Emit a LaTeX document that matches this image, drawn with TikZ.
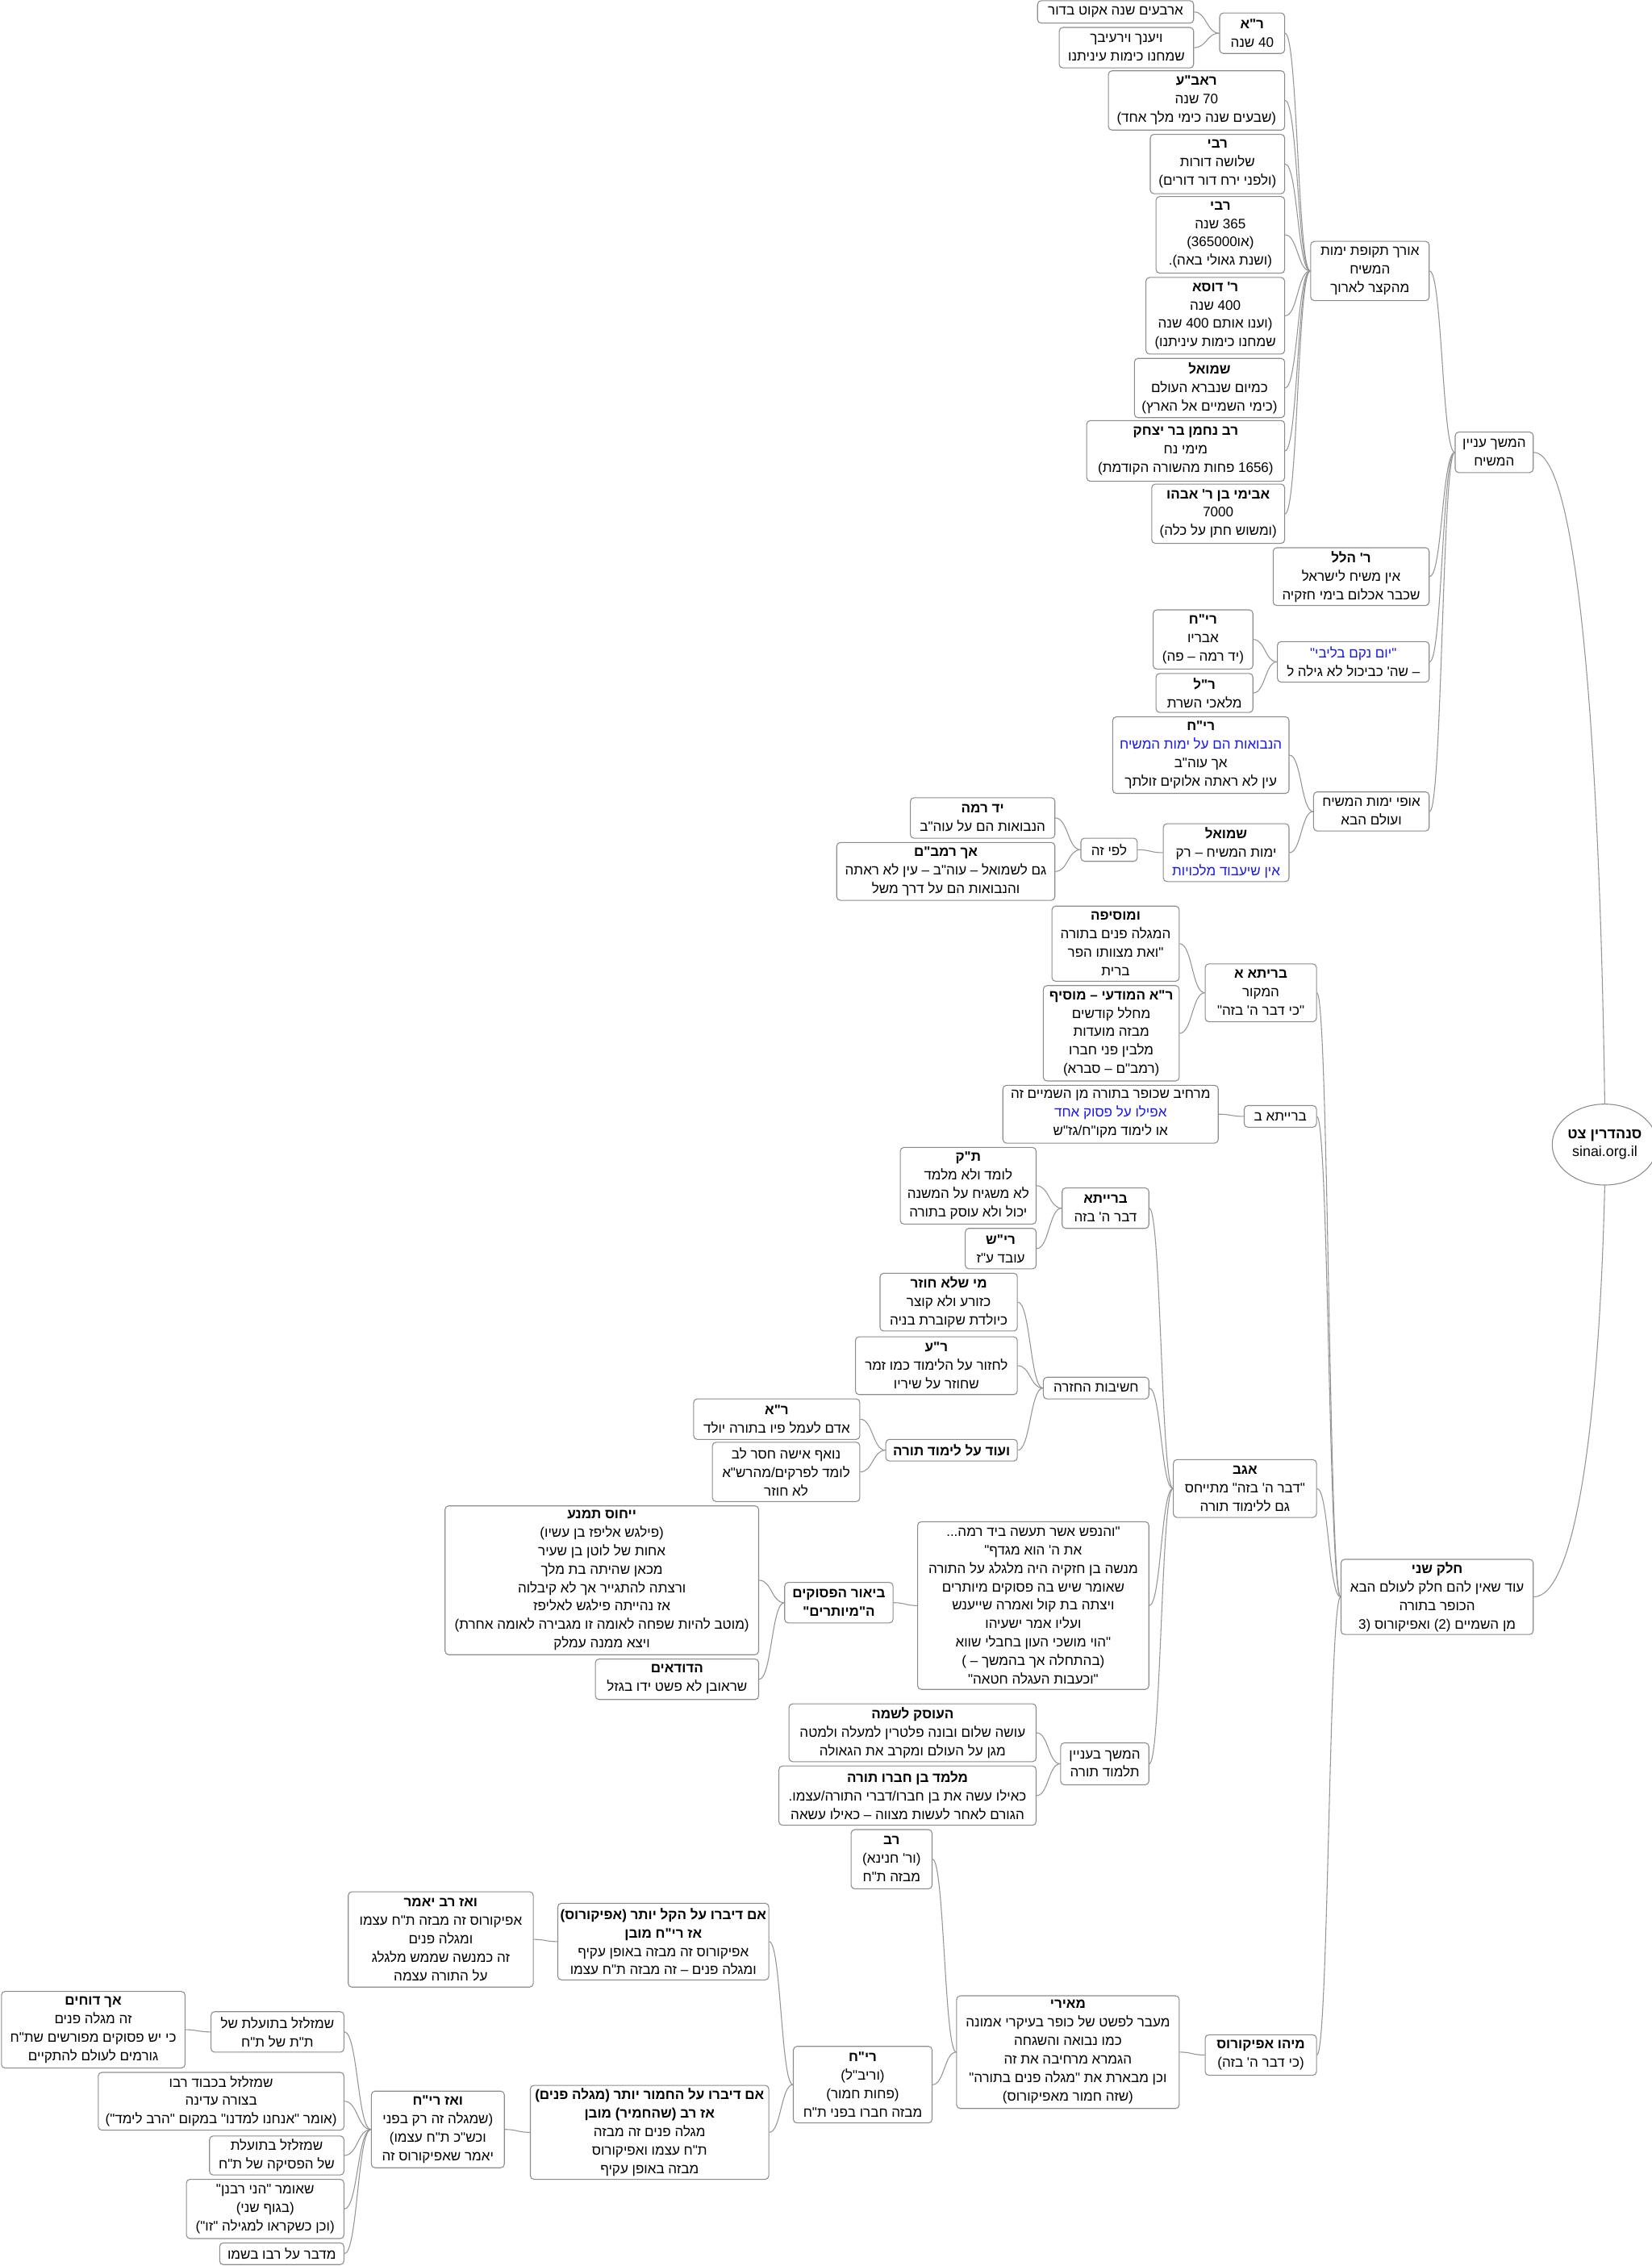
\documentclass[tikz,border=0pt]{standalone}
\usepackage{fontspec}
\usetikzlibrary{calc,shapes.geometric}
\newfontfamily\heb[Script=Hebrew]{Liberation Sans}
\TeXXeTstate=1
\definecolor{linkblue}{RGB}{25,25,235}
\definecolor{boxline}{RGB}{140,140,140}
\definecolor{edgeline}{RGB}{150,150,150}
\newcommand\R[1]{\beginR #1\endR}
\newcommand\B[1]{{\bfseries\beginR #1\endR}}
\newcommand\U[1]{\textcolor{linkblue}{\beginR #1\endR}}
\newcommand\rlm{^^^^200f}
\pgfdeclarelayer{bg}
\pgfsetlayers{bg,main}
\tikzset{
  box/.style={draw=boxline, line width=0.6pt, rounded corners=2.5pt, fill=white,
    align=center, inner sep=1pt, font=\heb\fontsize{9.5}{12.8}\selectfont},
  edge/.style={draw=edgeline, line width=0.6pt},
}
\newcommand\bx[6]{\node[box,minimum width={#4-#2},minimum height={#5-#3}] (#1) at ({(#2+#4)/2},{(#3+#5)/2}) {#6};}
\newcommand\cn[2]{\begin{pgfonlayer}{bg}\path ($(#1.east)!0.5!(#2.west)$) coordinate (cm);
  \draw[edge] (#1.east) .. controls (cm |- #1.east) and (cm |- #2.west) .. (#2.west);\end{pgfonlayer}}
\begin{document}
\begin{tikzpicture}[x=1pt,y=-1pt]
\begin{pgfonlayer}{bg}
\fill[white] (0,0) rectangle (1143,1568);
\end{pgfonlayer}
\useasboundingbox (0,0) rectangle (1143,1568);
% root
\node[draw=boxline, line width=0.6pt, ellipse, fill=white, align=center, inner sep=0pt,
  minimum width=63, minimum height=56, font=\heb\fontsize{10}{12.5}\selectfont] (root) at (1110.5,792)
  {\B{סנהדרין צט}\\sinai.org.il};
% part 1
\bx{arbaim}{718}{0.5}{826}{16}{\R{ארבעים שנה אקוט בדור}}
\bx{vayeancha}{733}{19}{826}{47}{\R{ויענך וירעיבך}\\\R{שמחנו כימות עיניתנו}}
\bx{ra40}{844}{9}{889}{37}{\B{ר"א}\\\R{40 שנה}}
\bx{raba}{767}{49}{889}{90}{\B{ראב"ע}\\\R{70 שנה}\\\R{(שבעים שנה כימי מלך אחד)}}
\bx{rebiA}{796}{93}{889}{134}{\B{רבי}\\\R{שלושה דורות}\\\R{(ולפני ירח דור דורים)}}
\bx{rebiB}{800}{136}{889}{189}{\B{רבי}\\\R{365 שנה}\\\R{(או365000)}\\\R{(ושנת גאולי באה).}}
\bx{dosa}{793}{192}{889}{245}{\B{ר' דוסא}\\\R{400 שנה}\\\R{(וענו אותם 400 שנה}\\\R{שמחנו כימות עיניתנו)}}
\bx{shmuelA}{785}{248}{889}{289}{\B{שמואל}\\\R{כמיום שנברא העולם}\\\R{(כימי השמיים אל הארץ)}}
\bx{nachman}{752}{291}{889}{333}{\B{רב נחמן בר יצחק}\\\R{מימי נח}\\\R{\rlm(1656 פחות מהשורה הקודמת)}}
\bx{avimi}{797}{335}{889}{376}{\B{אבימי בן ר' אבהו}\\\R{7000}\\\R{(ומשוש חתן על כלה)}}
\bx{orech}{907}{167}{989}{208}{\R{אורך תקופת ימות}\\\R{המשיח}\\\R{מהקצר לארוך}}
\bx{hemshech}{1007}{299}{1061}{327}{\R{המשך עניין}\\\R{המשיח}}
\bx{hillel}{881}{379}{989}{419}{\B{ר' הלל}\\\R{אין משיח לישראל}\\\R{שכבר אכלום בימי חזקיה}}
\bx{rchA}{798}{422}{867}{463}{\B{רי"ח}\\\R{אבריו}\\\R{(יד רמה – פה)}}
\bx{rl}{800}{466}{867}{493}{\B{ר"ל}\\\R{מלאכי השרת}}
\bx{yomnakam}{884}{444}{989}{472}{\U{"יום נקם בליבי"}\\\R{– שה' כביכול לא גילה ל}}
\bx{rchB}{770}{496}{892}{549}{\B{רי"ח}\\\U{הנבואות הם על ימות המשיח}\\\R{אך עוה"ב}\\\R{עין לא ראתה אלוקים זולתך}}
\bx{ofi}{909}{548}{989}{575}{\R{אופי ימות המשיח}\\\R{ועולם הבא}}
\bx{shmuelB}{805}{570}{892}{610}{\B{שמואל}\\\R{ימות המשיח – רק}\\\U{אין שיעבוד מלכויות}}
\bx{lefize}{748}{580}{787}{596}{\R{לפי זה}}
\bx{yadrama}{630}{552}{730}{580}{\B{יד רמה}\\\R{הנבואות הם על עוה"ב}}
\bx{rambam}{579}{583}{730}{623}{\B{אך רמב"ם}\\\R{גם לשמואל – עוה"ב – עין לא ראתה}\\\R{והנבואות הם על דרך משל}}
% part 2
\bx{umosifa}{728}{627}{816}{679}{\B{ומוסיפה}\\\R{המגלה פנים בתורה}\\\R{"ואת מצוותו הפר}\\\R{ברית}}
\bx{modai}{722}{682}{816}{748}{\B{ר"א המודעי – מוסיף}\\\R{מחלל קודשים}\\\R{מבזה מועדות}\\\R{מלבין פני חברו}\\\R{(רמב"ם – סברא)}}
\bx{braitaA}{834}{667}{911}{707}{\B{בריתא א}\\\R{המקור}\\\R{"כי דבר ה' בזה"}}
\bx{marchiv}{694}{751}{843}{791}{\R{מרחיב שכופר בתורה מן השמיים זה}\\\U{אפילו על פסוק אחד}\\\R{או לימוד מקו"ח/גז"ש}}
\bx{braitaB}{861}{765}{911}{780}{\R{ברייתא ב}}
\bx{tk}{623}{794}{717}{847}{\B{ת"ק}\\\R{לומד ולא מלמד}\\\R{לא משגיח על המשנה}\\\R{יכול ולא עוסק בתורה}}
\bx{rs}{668}{850}{717}{878}{\B{רי"ש}\\\R{עובד ע"ז}}
\bx{braita}{735}{822}{795}{850}{\B{ברייתא}\\\R{דבר ה' בזה}}
\bx{mishelo}{609}{881}{704}{921}{\B{מי שלא חוזר}\\\R{כזורע ולא קוצר}\\\R{כיולדת שקוברת בניה}}
\bx{rakiva}{592}{925}{704}{965}{\B{ר"ע}\\\R{לחזור על הלימוד כמו זמר}\\\R{שחוזר על שיריו}}
\bx{chashivut}{722}{953}{795}{968}{\R{חשיבות החזרה}}
\bx{raB}{480}{968}{595}{996}{\B{ר"א}\\\R{אדם לעמל פיו בתורה יולד}}
\bx{noef}{493}{998}{595}{1039}{\R{נואף אישה חסר לב}\\\R{לומד לפרקים/מהרש"א}\\\R{לא חוזר}}
\bx{veod}{613}{996}{704}{1011}{\B{ועוד על לימוד תורה}}
\bx{agav}{812}{1010}{911}{1050}{\B{אגב}\\\R{"דבר ה' בזה" מתייחס}\\\R{גם ללימוד תורה}}
\bx{yichus}{308}{1042}{525}{1145}{\B{ייחוס תמנע}\\\R{(פילגש אליפז בן עשיו)}\\\R{אחות של לוטן בן שעיר}\\\R{מכאן שהיתה בת מלך}\\\R{ורצתה להתגייר אך לא קיבלוה}\\\R{אז נהייתה פילגש לאליפז}\\\R{(מוטב להיות שפחה לאומה זו מגבירה לאומה אחרת)}\\\R{ויצא ממנה עמלק}}
\bx{dudaim}{412}{1148}{525}{1176}{\B{הדודאים}\\\R{שראובן לא פשט ידו בגזל}}
\bx{biur}{543}{1095}{618}{1123}{\B{ביאור הפסוקים}\\\B{ה"מיותרים"}}
\bx{vehanefesh}{635}{1053}{795}{1169}{\R{"והנפש אשר תעשה ביד רמה...}\\\R{את ה' הוא מגדף"}\\\R{מנשה בן חזקיה היה מלגלג על התורה}\\\R{שאומר שיש בה פסוקים מיותרים}\\\R{ויצתה בת קול ואמרה שייענש}\\\R{ועליו אמר ישעיהו}\\\R{"הוי מושכי העון בחבלי שווא}\\\R{(בהתחלה אך בהמשך – \rlm)}\\\R{"וכעבות העגלה חטאה"}}
\bx{haosek}{546}{1179}{717}{1219}{\B{העוסק לשמה}\\\R{עושה שלום ובונה פלטרין למעלה ולמטה}\\\R{מגן על העולם ומקרב את הגאולה}}
\bx{melamed}{539}{1222}{717}{1263}{\B{מלמד בן חברו תורה}\\\R{כאילו עשה את בן חברו/דברי התורה/עצמו.}\\\R{הגורם לאחר לעשות מצווה – כאילו עשאה}}
\bx{hemshechB}{734}{1206}{795}{1235}{\R{המשך בעניין}\\\R{תלמוד תורה}}
\bx{chelek}{928}{1079}{1061}{1131}{\B{חלק שני}\\\R{עוד שאין להם חלק לעולם הבא}\\\R{הכופר בתורה}\\\R{מן השמיים (2) ואפיקורוס \rlm(3}}
\bx{rav}{589}{1266}{645}{1307}{\B{רב}\\\R{(ור' חנינא)}\\\R{מבזה ת"ח}}
\bx{azravyomar}{241}{1309}{369}{1375}{\B{ואז רב יאמר}\\\R{אפיקורוס זה מבזה ת"ח עצמו}\\\R{ומגלה פנים}\\\R{זה כמנשה שממש מלגלג}\\\R{על התורה עצמה}}
\bx{imkal}{386}{1317}{532}{1370}{\B{אם דיברו על הקל יותר (אפיקורוס)}\\\B{אז רי"ח מובן}\\\R{אפיקורוס זה מבזה באופן עקיף}\\\R{ומגלה פנים – זה מבזה ת"ח עצמו}}
\bx{meiri}{662}{1381}{816}{1459}{\B{מאירי}\\\R{מעבר לפשט של כופר בעיקרי אמונה}\\\R{כמו נבואה והשגחה}\\\R{הגמרא מרחיבה את זה}\\\R{וכן מבארת את "מגלה פנים בתורה"}\\\R{(שזה חמור מאפיקורוס)}}
\bx{mihu}{834}{1408}{911}{1436}{\B{מיהו אפיקורוס}\\\R{(כי דבר ה' בזה)}}
\bx{rych}{549}{1416}{645}{1469}{\B{רי"ח}\\\R{(וריב"ל)}\\\R{(פחות חמור)}\\\R{מבזה חברו בפני ת"ח}}
\bx{imchamur}{367}{1443}{532}{1508}{\B{אם דיברו על החמור יותר (מגלה פנים)}\\\B{אז רב (שהחמיר) מובן}\\\R{מגלה פנים זה מבזה}\\\R{ת"ח עצמו ואפיקורוס}\\\R{מבזה באופן עקיף}}
\bx{azrych}{257}{1447}{349}{1500}{\B{ואז רי"ח}\\\R{(שמגלה זה רק בפני}\\\R{וכש"כ ת"ח עצמו)}\\\R{יאמר שאפיקורוס זה}}
\bx{achdochim}{1}{1378}{128}{1431}{\B{אך דוחים}\\\R{זה מגלה פנים}\\\R{כי יש פסוקים מפורשים שת"ח}\\\R{גורמים לעולם להתקיים}}
\bx{shmz1}{146}{1392}{238}{1420}{\R{שמזלזל בתועלת של}\\\R{ת"ת של ת"ח}}
\bx{shmz2}{68}{1434}{238}{1474}{\R{שמזלזל בכבוד רבו}\\\R{בצורה עדינה}\\\R{(אומר "אנחנו למדנו" במקום "הרב לימד")}}
\bx{shmz3}{145}{1478}{238}{1505}{\R{שמזלזל בתועלת}\\\R{של הפסיקה של ת"ח}}
\bx{sheomer}{129}{1508}{238}{1549}{\R{שאומר "הני רבנן"}\\\R{(בגוף שני)}\\\R{(וכן כשקראו למגילה "זו")}}
\bx{medaber}{152}{1552}{238}{1567}{\R{מדבר על רבו בשמו}}
% connectors
\cn{arbaim}{ra40}\cn{vayeancha}{ra40}
\cn{ra40}{orech}\cn{raba}{orech}\cn{rebiA}{orech}\cn{rebiB}{orech}
\cn{dosa}{orech}\cn{shmuelA}{orech}\cn{nachman}{orech}\cn{avimi}{orech}
\cn{orech}{hemshech}\cn{hillel}{hemshech}\cn{yomnakam}{hemshech}\cn{ofi}{hemshech}
\cn{rchA}{yomnakam}\cn{rl}{yomnakam}
\cn{rchB}{ofi}\cn{shmuelB}{ofi}
\cn{lefize}{shmuelB}
\cn{yadrama}{lefize}\cn{rambam}{lefize}
\cn{umosifa}{braitaA}\cn{modai}{braitaA}
\cn{marchiv}{braitaB}
\cn{tk}{braita}\cn{rs}{braita}
\cn{mishelo}{chashivut}\cn{rakiva}{chashivut}\cn{veod}{chashivut}
\cn{raB}{veod}\cn{noef}{veod}
\cn{yichus}{biur}\cn{dudaim}{biur}
\cn{biur}{vehanefesh}
\cn{haosek}{hemshechB}\cn{melamed}{hemshechB}
\cn{braita}{agav}\cn{chashivut}{agav}\cn{vehanefesh}{agav}\cn{hemshechB}{agav}
\cn{braitaA}{chelek}\cn{braitaB}{chelek}\cn{agav}{chelek}\cn{mihu}{chelek}
\cn{meiri}{mihu}
\cn{rav}{meiri}\cn{rych}{meiri}
\cn{imkal}{rych}\cn{imchamur}{rych}
\cn{azravyomar}{imkal}
\cn{azrych}{imchamur}
\cn{shmz1}{azrych}\cn{shmz2}{azrych}\cn{shmz3}{azrych}\cn{sheomer}{azrych}\cn{medaber}{azrych}
\cn{achdochim}{shmz1}
\begin{pgfonlayer}{bg}
\draw[edge] (root.north) .. controls +(-4,-280) and +(28,0) .. (hemshech.east);
\draw[edge] (root.south) .. controls +(-4,170) and +(28,0) .. (chelek.east);
\end{pgfonlayer}
\end{tikzpicture}
\end{document}
